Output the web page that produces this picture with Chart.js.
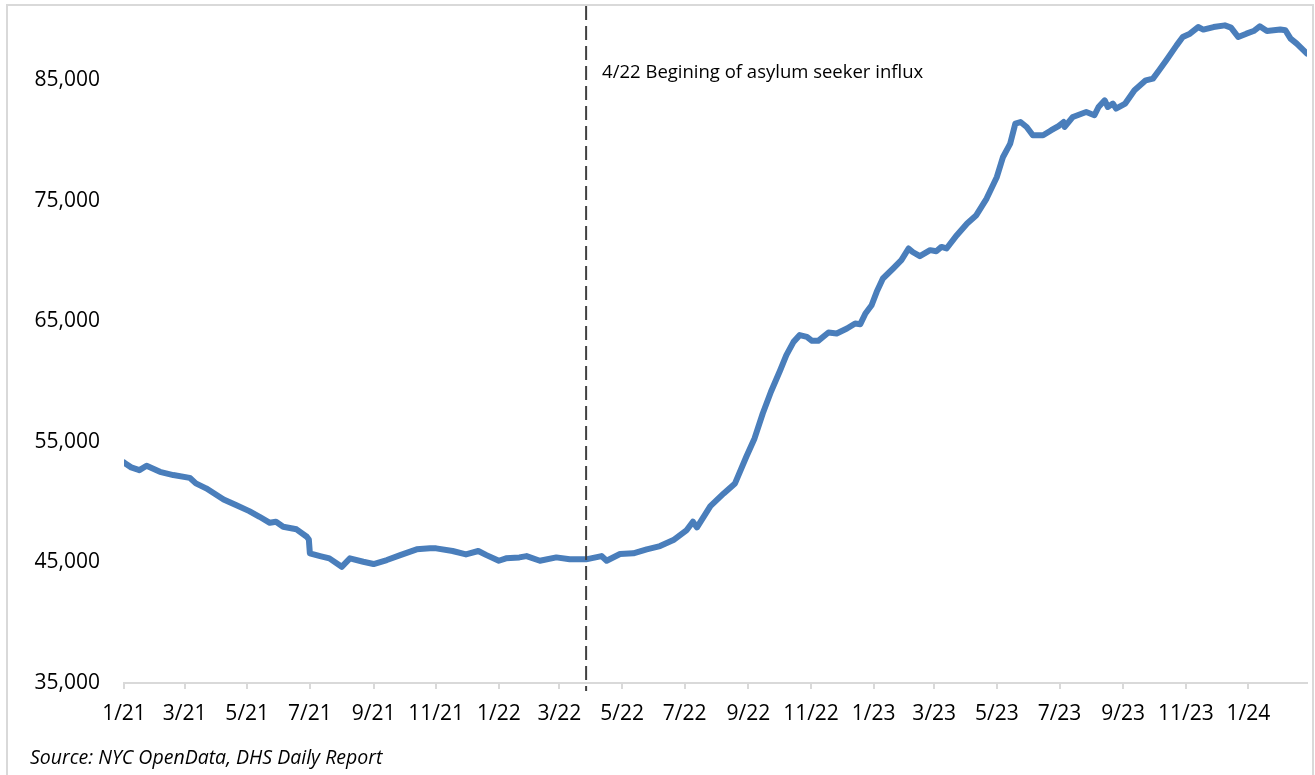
<!DOCTYPE html>
<html>
<head>
<meta charset="utf-8">
<script src="https://cdn.jsdelivr.net/npm/chart.js"></script>
<style>
  html, body { margin: 0; padding: 0; background: #fff; }
  #wrap { position: relative; width: 1315px; height: 775px; overflow: hidden; }
  #frame { position: absolute; left: 6px; top: 4px; width: 1308px; height: 820px; border: 2px solid #d9d9d9; box-sizing: border-box; }
  #shelter { position: absolute; left: 0; top: 0; }
  #source { position: absolute; left: 30px; top: 745px; font: italic 19.5px "Open Sans", sans-serif; color: #000; line-height: 24px; }
</style>
</head>
<body>
<div id="wrap">
  <div id="frame"></div>
  <canvas id="shelter" width="1315" height="775"></canvas>
  <div id="source">Source: NYC OpenData, DHS Daily Report</div>
</div>
<script>
// DHS shelter census
dates = ['2021-01-01','2021-01-02','2021-01-08','2021-01-16','2021-01-23','2021-02-05','2021-02-18','2021-03-06','2021-03-12','2021-03-22',
    '2021-04-08','2021-04-20','2021-05-03','2021-05-13','2021-05-23','2021-05-29','2021-06-05','2021-06-18','2021-06-28','2021-06-30',
    '2021-07-01','2021-07-11','2021-07-20','2021-08-01','2021-08-09','2021-08-22','2021-09-01','2021-09-14','2021-09-27','2021-10-13',
    '2021-10-26','2021-11-01','2021-11-17','2021-11-30','2021-12-12','2021-12-20','2022-01-01','2022-01-08','2022-01-21','2022-01-28',
    '2022-02-10','2022-02-26','2022-03-11','2022-03-27','2022-04-11','2022-04-16','2022-04-29','2022-05-12','2022-05-25','2022-06-07',
    '2022-06-20','2022-07-03','2022-07-09','2022-07-13','2022-07-26','2022-08-08','2022-08-19','2022-08-30','2022-09-07','2022-09-15',
    '2022-09-23','2022-10-02','2022-10-08','2022-10-15','2022-10-21','2022-10-28','2022-11-02','2022-11-08','2022-11-18','2022-11-26',
    '2022-12-06','2022-12-14','2022-12-19','2022-12-24','2022-12-30','2023-01-04','2023-01-10','2023-01-20','2023-01-28','2023-02-04',
    '2023-02-08','2023-02-15','2023-02-25','2023-03-03','2023-03-08','2023-03-13','2023-03-23','2023-04-02','2023-04-11','2023-04-21',
    '2023-05-01','2023-05-07','2023-05-14','2023-05-19','2023-05-24','2023-05-30','2023-06-05','2023-06-15','2023-06-23','2023-06-30',
    '2023-07-05','2023-07-06','2023-07-14','2023-07-27','2023-08-04','2023-08-08','2023-08-14','2023-08-17','2023-08-22','2023-08-25',
    '2023-09-03','2023-09-12','2023-09-23','2023-09-30','2023-10-06','2023-10-13','2023-10-23','2023-10-29','2023-11-05','2023-11-13',
    '2023-11-18','2023-11-28','2023-12-09','2023-12-15','2023-12-22','2023-12-30','2024-01-06','2024-01-12','2024-01-19','2024-02-01',
    '2024-02-06','2024-02-11','2024-02-17','2024-02-27']

census = [53300,53220,52890,52660,53020,52520,52250,52020,51560,51150,
    50230,49760,49260,48790,48290,48380,47960,47750,47130,46900,
    45760,45530,45340,44640,45340,45060,44870,45200,45610,46090,
    46170,46170,45950,45670,45950,45610,45140,45340,45420,45530,
    45140,45420,45260,45260,45530,45140,45700,45760,46090,46360,
    46860,47690,48380,47910,49680,50730,51560,53770,55290,57360,
    59160,60950,62200,63300,63860,63720,63390,63390,64080,64000,
    64410,64830,64770,65660,66340,67450,68560,69390,70080,71050,
    70760,70410,70910,70820,71180,71050,72150,73120,73810,75190,
    76980,78640,79750,81410,81540,81130,80440,80440,80860,81200,
    81540,81130,81960,82370,82100,82790,83340,82790,83070,82660,
    83070,84170,85000,85140,85830,86660,87900,88590,88870,89420,
    89210,89420,89560,89370,88590,88870,89090,89480,89090,89210,
    89150,88460,88040,87220]

tick_dates = ['2021-01-01','2021-03-01','2021-05-01','2021-07-01','2021-09-01','2021-11-01','2022-01-01','2022-03-01','2022-05-01','2022-07-01',
    '2022-09-01','2022-11-01','2023-01-01','2023-03-01','2023-05-01','2023-07-01','2023-09-01','2023-11-01','2024-01-01']
tick_labels = ['1/21','3/21','5/21','7/21','9/21','11/21','1/22','3/22','5/22','7/22',
    '9/22','11/22','1/23','3/23','5/23','7/23','9/23','11/23','1/24']
y_ticks = [35000, 45000, 55000, 65000, 75000, 85000]
y_min = 35000
y_max = 91000

influx_date = '2022-03-27'
influx_label = '4/22 Begining of asylum seeker influx'

function day_num(s) {
    p = s.split('-')
    return (Date.UTC(+p[0], p[1] - 1, +p[2]) - Date.UTC(2021, 0, 1)) / 86400000
}

points = []
for (let i = 0; i < dates.length; i++) {
    points.push({'x': day_num(dates[i]), 'y': census[i]})
}

// dashed marker + label for the start of the influx
influx_plugin = {
    id: 'influx',
    afterDatasetsDraw(chart) {
        ctx = chart.ctx
        area = chart.chartArea
        x = chart.scales.x.getPixelForValue(day_num(influx_date))
        ctx.save()
        ctx.strokeStyle = '#404040'
        ctx.lineWidth = 2
        ctx.setLineDash([14, 6])
        ctx.beginPath()
        ctx.moveTo(x, area.top - 2)
        ctx.lineTo(x, area.bottom + 8)
        ctx.stroke()
        ctx.setLineDash([])
        ctx.fillStyle = '#000'
        ctx.font = '18.5px "Open Sans"'
        ctx.textBaseline = 'middle'
        ctx.fillText(influx_label, x + 16, area.top + 65)
        ctx.restore()
    }
}

Chart.defaults.font.family = '"Open Sans", sans-serif'
Chart.defaults.color = '#000'

var ctx = document.getElementById('shelter').getContext('2d')
myChart1 = new Chart(ctx, {
    type: 'line',
    data: {
        datasets: [{
            label: 'Shelter census',
            data: points,
            borderColor: '#4a7ebb',
            borderWidth: 6,
            pointRadius: 0,
            tension: 0,
            fill: false,
            borderJoinStyle: 'round',
            borderCapStyle: 'round',
        }]
    },
    options: {
        responsive: false,
        animation: false,
        layout: {
            padding: {left: 0, right: 8, top: 8, bottom: 42}
        },
        scales: {
            x: {
                type: 'linear',
                position: 'bottom',
                min: day_num(dates[0]),
                max: day_num(dates[dates.length - 1]),
                afterBuildTicks: (scale) => {
                    scale.ticks = tick_dates.map(d => ({value: day_num(d)}))
                },
                afterFit: (scale) => { scale.height = 50 },
                ticks: {
                    autoSkip: false,
                    maxRotation: 0,
                    padding: 12,
                    font: {size: 21},
                    callback: (v, i) => tick_labels[i],
                },
                grid: {
                    drawOnChartArea: false,
                    drawTicks: true,
                    tickLength: 6,
                    color: '#d9d9d9',
                    lineWidth: 2,
                },
                border: {display: true, color: '#d9d9d9', width: 2},
            },
            y: {
                type: 'linear',
                position: 'left',
                min: y_min,
                max: y_max,
                afterBuildTicks: (scale) => {
                    scale.ticks = y_ticks.map(v => ({value: v}))
                },
                afterFit: (scale) => {
                    scale.width = 124
                    scale.paddingTop = 0
                    scale.paddingBottom = 0
                },
                ticks: {
                    padding: 24,
                    font: {size: 21},
                    callback: (v) => v.toLocaleString('en-US'),
                },
                grid: {display: false, drawTicks: false},
                border: {display: false},
            }
        },
        plugins: {
            legend: {display: false},
            tooltip: {enabled: false},
        }
    },
    plugins: [influx_plugin]
})
</script>
</body>
</html>
